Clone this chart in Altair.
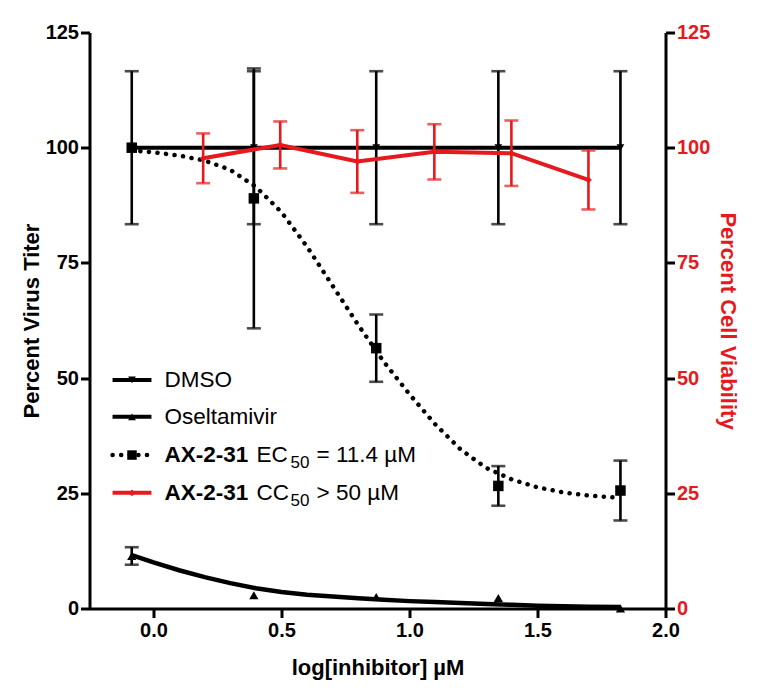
import altair as alt
import pandas as pd

# ---------------- data ----------------
x_pts = [-0.085, 0.392, 0.870, 1.347, 1.824]

dmso_mean = [100.0, 100.0, 100.0, 100.0, 100.0]
dmso_sd = [16.6, 16.6, 16.6, 16.6, 16.6]

ax_mean = [100.0, 89.0, 56.5, 26.6, 25.6]
ax_sd = [0.0, 28.2, 7.3, 4.3, 6.5]

osel_mean = [11.4, 2.9, 2.5, 2.3, 0.0]
osel_sd = [1.9, 0.0, 0.0, 0.0, 0.0]

curve_x = [-0.085, 0.0, 0.1, 0.2, 0.3, 0.4, 0.5, 0.6, 0.7, 0.8, 0.9,
           1.0, 1.1, 1.2, 1.3, 1.4, 1.5, 1.6, 1.7, 1.824]
ax_fit = [99.4, 99.0, 98.3, 97.2, 95.2, 91.5, 86.0, 78.5, 70.0, 61.5, 53.5,
          46.5, 40.0, 34.5, 30.5, 28.0, 26.3, 25.2, 24.5, 24.0]
osel_fit = [11.6, 10.0, 8.3, 6.8, 5.5, 4.4, 3.6, 3.0, 2.6, 2.2, 1.9,
            1.6, 1.4, 1.2, 1.0, 0.8, 0.6, 0.5, 0.4, 0.3]

cc_x = [0.194, 0.495, 0.796, 1.097, 1.398, 1.699]
cc_mean = [97.7, 100.6, 97.0, 99.1, 98.8, 93.0]
cc_sd = [5.4, 5.1, 6.8, 6.0, 7.1, 6.4]

x_ticks = [0.0, 0.5, 1.0, 1.5, 2.0]
y_ticks = [0, 25, 50, 75, 100, 125]

legend_names = ["DMSO", "Oseltamivir", "AX-2-31", "AX-2-31"]
legend_mid = ["", "", "EC", "CC"]
legend_sub = ["", "", "50", "50"]
legend_tail = ["", "", "= 11.4 µM", "> 50 µM"]

# ---------------- styling constants ----------------
RED = "#e5191e"
BLACK = "#000000"
FONT = "Liberation Sans"
W, H = 576, 576
LEG_Y = [49.6, 41.6, 33.3, 25.1]      # legend rows (in y-axis units)
LEG_X1, LEG_X2, LEG_XM, LEG_XT = -0.160, -0.008, -0.084, 0.043
LEG_FS = 22.5

xscale = alt.Scale(domain=[-0.25, 2.0], nice=False, zero=False)
yscale = alt.Scale(domain=[0, 125], nice=False)

x_axis = alt.Axis(values=x_ticks, format=".1f", grid=False,
                  domainColor=BLACK, domainWidth=3, tickColor=BLACK, tickWidth=3,
                  tickSize=9, labelFont=FONT, labelFontSize=20, labelFontWeight="bold",
                  labelColor=BLACK, labelPadding=3, labelFlush=False,
                  title="log[inhibitor] µM", titleFont=FONT, titleFontSize=22,
                  titleFontWeight="bold", titleColor=BLACK, titlePadding=17)
y_left_axis = alt.Axis(values=y_ticks, grid=False, orient="left",
                       domainColor=BLACK, domainWidth=3, tickColor=BLACK, tickWidth=3,
                       tickSize=9, labelFont=FONT, labelFontSize=20, labelFontWeight="bold",
                       labelColor=BLACK, labelPadding=2, labelFlush=False,
                       title="Percent Virus Titer", titleFont=FONT, titleFontSize=22,
                       titleFontWeight="bold", titleColor=BLACK,
                       titleX=-58.5, titleBaseline="middle", titleAngle=-90)
y_right_axis = alt.Axis(values=y_ticks, grid=False, orient="right",
                        domainColor=BLACK, domainWidth=3, tickColor=BLACK, tickWidth=3,
                        tickSize=9, labelFont=FONT, labelFontSize=20, labelFontWeight="bold",
                        labelColor=RED, labelPadding=2, labelFlush=False,
                        title="Percent Cell Viability", titleFont=FONT, titleFontSize=22,
                        titleFontWeight="bold", titleColor=RED,
                        titleX=62, titleBaseline="middle", titleAngle=90)


def X(field="x"):
    return alt.X(f"{field}:Q", scale=xscale, axis=x_axis)


def YL(field):
    return alt.Y(f"{field}:Q", scale=yscale, axis=y_left_axis)


def YR(field):
    return alt.Y(f"{field}:Q", scale=yscale, axis=y_right_axis)


def series_df(xs, mean, sd):
    return pd.DataFrame({"x": xs, "m": mean,
                         "lo": [a - b for a, b in zip(mean, sd)],
                         "hi": [a + b for a, b in zip(mean, sd)]})


def caps_df(xs, mean, sd):
    rows = []
    for a, m, s in zip(xs, mean, sd):
        if s > 0:
            rows.append({"x": a, "c": m - s})
            rows.append({"x": a, "c": m + s})
    return pd.DataFrame(rows)


def errbars(xs, mean, sd, color, Yf):
    df = series_df(xs, mean, sd)
    df = df[[s > 0 for s in sd]]
    rules = alt.Chart(df).mark_rule(color=color, strokeWidth=2.6).encode(
        x=X(), y=Yf("lo"), y2="hi")
    caps = alt.Chart(caps_df(xs, mean, sd)).mark_tick(
        color=color, orient="horizontal", size=14, thickness=2.6).encode(x=X(), y=Yf("c"))
    return [rules, caps]


dmso = series_df(x_pts, dmso_mean, dmso_sd)
axd = series_df(x_pts, ax_mean, ax_sd)
osd = series_df(x_pts, osel_mean, osel_sd)
ccd = series_df(cc_x, cc_mean, cc_sd)
fit = pd.DataFrame({"x": curve_x, "ax": ax_fit, "os": osel_fit})

left_layers = []
# DMSO
left_layers.append(alt.Chart(dmso).mark_line(color=BLACK, strokeWidth=4).encode(x=X(), y=YL("m")))
left_layers += errbars(x_pts, dmso_mean, dmso_sd, BLACK, YL)
left_layers.append(alt.Chart(dmso).mark_point(shape="triangle-down", filled=True, color=BLACK,
                                              size=60, opacity=1).encode(x=X(), y=YL("m")))
# AX-2-31 EC50 fit
left_layers.append(alt.Chart(fit).mark_line(color=BLACK, strokeWidth=4.5, strokeDash=[0.1, 8.5],
                                            strokeCap="round").encode(x=X(), y=YL("ax")))
left_layers += errbars(x_pts, ax_mean, ax_sd, BLACK, YL)
left_layers.append(alt.Chart(axd).mark_point(shape="square", filled=True, color=BLACK,
                                             size=110, opacity=1).encode(x=X(), y=YL("m")))
# Oseltamivir
left_layers.append(alt.Chart(fit).mark_line(color=BLACK, strokeWidth=4.5).encode(x=X(), y=YL("os")))
left_layers += errbars(x_pts, osel_mean, osel_sd, BLACK, YL)
left_layers.append(alt.Chart(osd).mark_point(shape="triangle-up", filled=True, color=BLACK,
                                             size=85, opacity=1).encode(x=X(), y=YL("m")))

# ---------------- legend ----------------
leg = pd.DataFrame({"name": legend_names, "mid": legend_mid, "sub": legend_sub,
                    "tail": legend_tail, "y": LEG_Y,
                    "x1": [LEG_X1] * 4, "x2": [LEG_X2] * 4, "xm": [LEG_XM] * 4, "xt": [LEG_XT] * 4,
                    "col": [BLACK, BLACK, BLACK, RED],
                    "shape": ["triangle-down", "triangle-up", "square", "diamond"],
                    "sz": [60, 60, 90, 45],
                    "bold": ["normal", "normal", "bold", "bold"]})
leg_solid = leg[leg.index != 2]
leg_dot = leg[leg.index == 2]
left_layers.append(alt.Chart(leg_solid).mark_rule(strokeWidth=4).encode(
    x=X("x1"), x2="x2", y=YL("y"), color=alt.Color("col:N", scale=None)))
left_layers.append(alt.Chart(leg_dot).mark_rule(strokeWidth=4.5, strokeDash=[0.1, 8.5],
                                                strokeCap="round", color=BLACK).encode(
    x=X("x1"), x2="x2", y=YL("y")))
left_layers.append(alt.Chart(leg).mark_point(filled=True, opacity=1).encode(
    x=X("xm"), y=YL("y"), color=alt.Color("col:N", scale=None),
    shape=alt.Shape("shape:N", scale=None), size=alt.Size("sz:Q", scale=None)))
left_layers.append(alt.Chart(leg).mark_text(align="left", baseline="middle", font=FONT,
                                            fontSize=LEG_FS, color=BLACK).encode(
    x=X("xt"), y=YL("y"), text="name:N").transform_filter("datum.bold == 'normal'"))
left_layers.append(alt.Chart(leg).mark_text(align="left", baseline="middle", font=FONT,
                                            fontSize=LEG_FS, fontWeight="bold", color=BLACK).encode(
    x=X("xt"), y=YL("y"), text="name:N").transform_filter("datum.bold == 'bold'"))
left_layers.append(alt.Chart(leg).mark_text(align="left", baseline="middle", font=FONT,
                                            fontSize=LEG_FS, color=BLACK, dx=92).encode(
    x=X("xt"), y=YL("y"), text="mid:N").transform_filter("datum.mid != ''"))
left_layers.append(alt.Chart(leg).mark_text(align="left", baseline="middle", font=FONT,
                                            fontSize=17, color=BLACK, dx=126, dy=8).encode(
    x=X("xt"), y=YL("y"), text="sub:N").transform_filter("datum.sub != ''"))
left_layers.append(alt.Chart(leg).mark_text(align="left", baseline="middle", font=FONT,
                                            fontSize=LEG_FS, color=BLACK, dx=152).encode(
    x=X("xt"), y=YL("y"), text="tail:N").transform_filter("datum.tail != ''"))

left = alt.layer(*left_layers)

# ---------------- right axis: cell viability ----------------
right_layers = [
    alt.Chart(ccd).mark_line(color=RED, strokeWidth=4).encode(x=X(), y=YR("m")),
]
right_layers += errbars(cc_x, cc_mean, cc_sd, RED, YR)
right_layers.append(alt.Chart(ccd).mark_point(shape="diamond", filled=True, color=RED,
                                              size=45, opacity=1).encode(x=X(), y=YR("m")))
right = alt.layer(*right_layers)

chart = alt.layer(left, right).resolve_scale(y="independent").properties(
    width=W, height=H,
    background="white",
    autosize=alt.AutoSizeParams(type="none"),
    padding={"left": 81.5, "top": 24.5, "right": 84, "bottom": 74},
).configure_view(stroke=None)

chart.save("out.html", embed_options={"renderer": "svg", "actions": False})
